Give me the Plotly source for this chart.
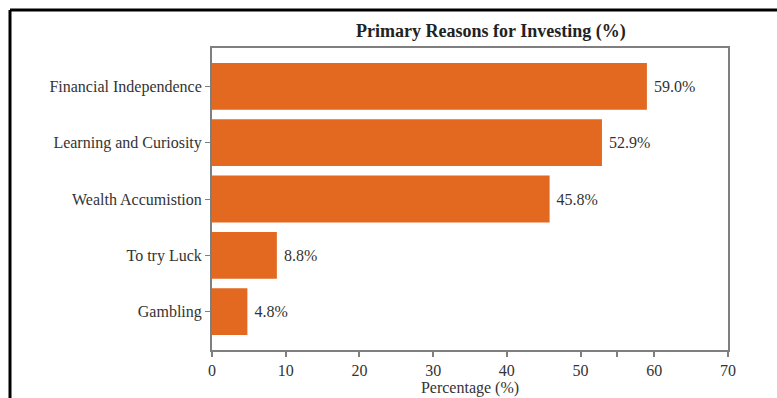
import plotly.graph_objects as go

# Survey results: share of respondents citing each reason
reasons = [
    "Financial Independence",
    "Learning and Curiosity",
    "Wealth Accumistion",
    "To try Luck",
    "Gambling",
]
percentages = [59.0, 52.9, 45.8, 8.8, 4.8]

x_ticks = [0, 10, 20, 30, 40, 50, 55, 60, 70]
x_tick_text = ["0", "10", "20", "30", "40", "50", "", "60", "70"]

W, H = 777, 398
M_L, M_R, M_T, M_B = 212, 49, 48, 48
PW, PH = W - M_L - M_R, H - M_T - M_B

FONT = "Liberation Serif, Times New Roman, serif"
TXT = "#333333"
AXIS = "#7f7f7f"


def px_x(p):
    return (p - M_L) / PW


def px_y(p):
    return (H - M_B - p) / PH


fig = go.Figure(
    go.Bar(
        x=percentages,
        y=reasons,
        orientation="h",
        marker=dict(color="#E2691F", line=dict(width=0)),
        text=[f"\u00a0{v:.1f}%" for v in percentages],
        textposition="outside",
        textfont=dict(family=FONT, size=16, color=TXT),
        cliponaxis=False,
        width=0.83,
    )
)

fig.update_layout(
    width=W,
    height=H,
    margin=dict(l=M_L, r=M_R, t=M_T, b=M_B, autoexpand=False),
    paper_bgcolor="white",
    plot_bgcolor="white",
    showlegend=False,
    font=dict(family=FONT, size=16, color=TXT),
    xaxis=dict(
        range=[0, 70],
        automargin=False,
        tickmode="array",
        tickvals=x_ticks,
        ticktext=x_tick_text,
        ticks="outside",
        ticklen=5,
        tickwidth=2,
        tickcolor=AXIS,
        showline=True,
        linecolor=AXIS,
        linewidth=2,
        mirror=True,
        showgrid=False,
        zeroline=False,
        tickfont=dict(family=FONT, size=16, color=TXT),
        title=dict(text="Percentage (%)", font=dict(family=FONT, size=16, color=TXT), standoff=4),
    ),
    yaxis=dict(
        categoryorder="array",
        categoryarray=reasons,
        range=[4.68, -0.68],
        automargin=False,
        ticks="outside",
        ticklen=5,
        tickwidth=1,
        tickcolor=AXIS,
        showline=True,
        linecolor=AXIS,
        linewidth=2,
        mirror=True,
        showgrid=False,
        zeroline=False,
        tickfont=dict(family=FONT, size=16, color=TXT),
    ),
    annotations=[
        dict(
            text="<b>Primary Reasons for Investing (%)</b>",
            xref="paper",
            yref="paper",
            x=px_x(491),
            y=px_y(31),
            xanchor="center",
            yanchor="middle",
            showarrow=False,
            font=dict(family=FONT, size=18, color="#222222"),
        )
    ],
    shapes=[
        # frame lines along the top and left edges of the figure
        dict(type="line", xref="paper", yref="paper",
             x0=px_x(10), x1=px_x(W + 5), y0=px_y(10), y1=px_y(10),
             line=dict(color="black", width=3)),
        dict(type="line", xref="paper", yref="paper",
             x0=px_x(10), x1=px_x(10), y0=px_y(10), y1=px_y(H + 5),
             line=dict(color="black", width=3)),
    ],
)

fig.write_html("out.html")
